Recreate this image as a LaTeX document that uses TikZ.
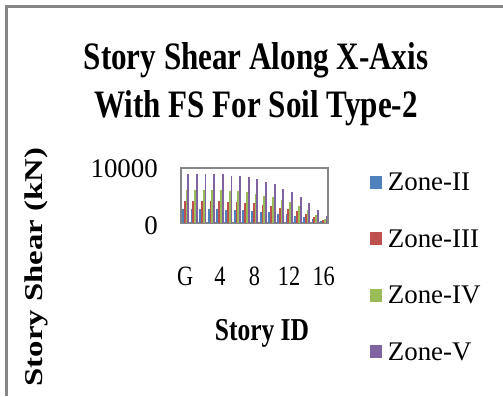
\documentclass[tikz,border=0pt]{standalone}
\usepackage{fontspec}
\setmainfont{Liberation Serif}
\newfontfamily\headfont[FakeStretch=0.8]{Liberation Serif}
\newfontfamily\sidefont[FakeStretch=1.28]{Liberation Serif}
\usetikzlibrary{positioning}
\definecolor{framecol}{RGB}{134,134,134}
\definecolor{zonetwo}{RGB}{79,129,189}
\definecolor{zonethree}{RGB}{192,80,77}
\definecolor{zonefour}{RGB}{155,187,89}
\definecolor{zonefive}{RGB}{128,100,162}

\begin{document}
\begin{tikzpicture}[
  x=1bp, y=-1bp,
  ttl/.style={inner sep=0pt, anchor=base, font=\headfont\bfseries\fontsize{39}{46}\selectfont},
  lbl/.style={inner sep=0pt, font=\fontsize{27}{30}\selectfont},
  cat/.style={inner sep=0pt, font=\headfont\fontsize{28}{30}\selectfont},
  key/.style={minimum width=12bp, minimum height=13bp, inner sep=0pt},
]
\useasboundingbox (0,0) rectangle (503,396);
\draw[framecol, line width=3bp] (6.5,396) |- (503,6.5);
\node[ttl] (title) at (256,69) {Story Shear Along X-Axis};
\node[ttl] (subtitle) at (256,117) {With FS For Soil Type-2};
\node[inner sep=0pt, rotate=90, font=\sidefont\bfseries\fontsize{25.7}{30}\selectfont] (ytitle) at (36,267) {Story Shear (kN)};
\draw[framecol, line width=1.2bp] (181,168) rectangle (328,223);
\foreach \v [count=\i from 0] in {89.5,89.5,89.5,89.5,89.5,86,86,83.5,80,74,71.5,62,56.5,47.5,36.5,23,12} {
  \foreach \c/\f [count=\k from 0] in {zonetwo/0.1,zonethree/0.16,zonefour/0.24,zonefive/0.36}
    \fill[\c] ({181+8.647*\i+0.9+1.8*\k},223) rectangle ++(1.8,{-\v*\f/0.36*0.55});
}
\node[lbl, anchor=east] (tmax) at (158,169) {10000};
\node[lbl, anchor=east] (tmin) at (158,226) {0};
\foreach \t [count=\i from 0] in {G,4,8,12,16}
  \node[cat] (cat\i) at ({185.3+34.59*\i},276) {\t};
\node[inner sep=0pt, font=\headfont\bfseries\fontsize{32}{34}\selectfont] (xtitle) at (262,333) {Story ID};
\foreach \c/\t [count=\k from 0] in {zonetwo/Zone-II,zonethree/Zone-III,zonefour/Zone-IV,zonefive/Zone-V} {
  \node[key, fill=\c] (key\k) at (375.5,{182+56.5*\k}) {};
  \node[lbl, right=6bp of key\k] (zone\k) {\t};
}
\end{tikzpicture}
\end{document}
